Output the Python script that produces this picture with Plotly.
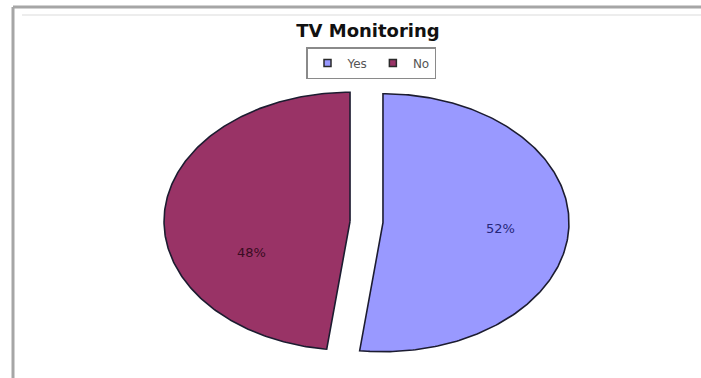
import numpy as np
import plotly.graph_objects as go

# Survey answers
labels = ["Yes", "No"]
shares = [52, 48]
colors = ["#9999FF", "#993366"]
text_colors = ["#26267a", "#3a0c22"]

W, H = 701, 378
# Ellipse geometry of the flattened pie (in pixel units of the axes)
CX, CY = 366.5, 222.0
RX, RY = 186.0, 129.0
PULL = 16.5  # explosion distance of each slice

fig = go.Figure()

total = float(sum(shares))
start = 0.0
for name, v, col in zip(labels, shares, colors):
    sweep = 360.0 * v / total
    mid = np.radians(start + sweep / 2)
    ox = PULL * np.sin(mid)
    oy = -PULL * np.cos(mid) * RY / RX
    th = np.radians(np.linspace(start, start + sweep, 240))
    px = CX + ox + RX * np.sin(th)
    py = CY + oy - RY * np.cos(th)
    xs = np.concatenate([[CX + ox], px, [CX + ox]])
    ys = np.concatenate([[CY + oy], py, [CY + oy]])
    fig.add_trace(go.Scatter(
        x=xs, y=ys, mode="lines", fill="toself", fillcolor=col,
        line=dict(color="#1c1c30", width=1.6), showlegend=False,
        hoverinfo="skip",
    ))
    start += sweep

# Legend entries as small square swatches
for name, col in zip(labels, colors):
    fig.add_trace(go.Scatter(
        x=[None], y=[None], mode="markers", name=name,
        marker=dict(symbol="square", size=7, color=col,
                    line=dict(color="#2a2a2a", width=1.5)),
    ))

# Percentage labels inside the slices
label_pos = {"Yes": (500, 228), "No": (251, 252)}
for name, v, tc in zip(labels, shares, text_colors):
    lx, ly = label_pos[name]
    fig.add_annotation(
        x=lx, y=ly, xref="x", yref="y", text=f"{v}%", showarrow=False,
        font=dict(family="DejaVu Sans", size=13, color=tc),
    )

# Chart frame (left and top edges)
fig.add_shape(type="line", xref="x", yref="y", x0=13, y0=H + 5, x1=13, y1=7,
              line=dict(color="#a6a6a6", width=3))
fig.add_shape(type="line", xref="x", yref="y", x0=13, y0=7, x1=W + 5, y1=7,
              line=dict(color="#a6a6a6", width=3))
fig.add_shape(type="line", xref="x", yref="y", x0=22, y0=15, x1=W + 5, y1=15,
              line=dict(color="#ededed", width=2))

fig.update_layout(
    width=W, height=H, autosize=False,
    margin=dict(l=0, r=0, t=0, b=0),
    paper_bgcolor="white", plot_bgcolor="white",
    title=dict(text="<b>TV Monitoring</b>", x=368 / W, xanchor="center",
               y=1 - 31 / H, yanchor="middle",
               font=dict(family="DejaVu Sans", size=18, color="#111111")),
    legend=dict(orientation="h", x=371 / W, xanchor="center",
                y=1 - 47 / H, yanchor="top",
                bordercolor="#8a8a8a", borderwidth=1.5, bgcolor="white",
                font=dict(family="DejaVu Sans", size=12, color="#555555"),
                itemwidth=30),
    xaxis=dict(range=[0, W], visible=False, fixedrange=True),
    yaxis=dict(range=[H, 0], visible=False, fixedrange=True),
)

fig.write_html("out.html")
